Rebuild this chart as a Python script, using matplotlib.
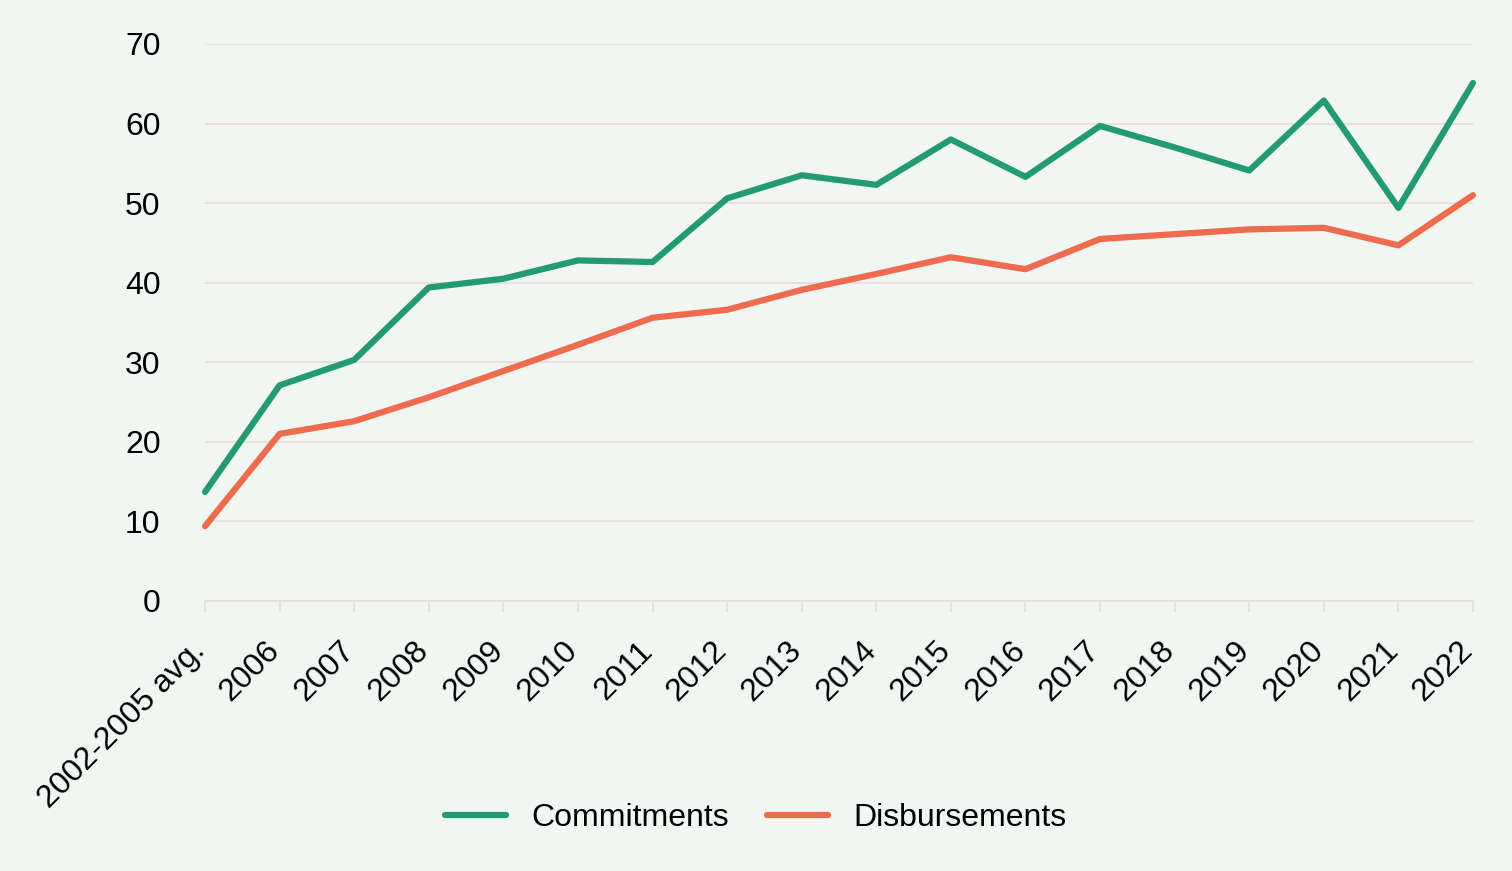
import matplotlib.pyplot as plt
import matplotlib.transforms as mtransforms

# Data
years = ['2002-2005 avg.', '2006', '2007', '2008', '2009', '2010', '2011', '2012', '2013',
         '2014', '2015', '2016', '2017', '2018', '2019', '2020', '2021', '2022']
commitments = [13.7, 27.1, 30.3, 39.4, 40.5, 42.8, 42.6, 50.6, 53.5,
               52.3, 58.0, 53.3, 59.7, 57.0, 54.1, 62.9, 49.4, 65.1]
disbursements = [9.4, 21.0, 22.6, 25.6, 28.9, 32.2, 35.6, 36.6, 39.1,
                 41.1, 43.2, 41.7, 45.5, 46.1, 46.7, 46.9, 44.7, 51.0]

bg = '#f2f6f3'
grid_col = '#e4ddd6'

plt.rcParams['font.family'] = ['Liberation Sans', 'DejaVu Sans']

fig = plt.figure(figsize=(15.12, 8.71), dpi=100, facecolor=bg)
ax = fig.add_axes([0.1356, 0.31, 0.8386, 0.6395])
ax.set_facecolor(bg)

x = range(len(years))
ax.plot(x, commitments, color='#229b73', lw=4.5, solid_capstyle='round',
        solid_joinstyle='round', label='Commitments', clip_on=False)
ax.plot(x, disbursements, color='#ee6b4d', lw=4.5, solid_capstyle='round',
        solid_joinstyle='round', label='Disbursements', clip_on=False)

ax.set_xlim(0, len(years) - 1)
ax.set_ylim(0, 70)
ax.set_yticks(range(0, 71, 10))
ax.set_xticks(list(x))
ax.set_xticklabels(years, rotation=45, ha='right', rotation_mode='anchor')

ax.grid(axis='y', color=grid_col, lw=1.2)
ax.set_axisbelow(True)
for s in ['top', 'right', 'left']:
    ax.spines[s].set_visible(False)
ax.spines['bottom'].set_color(grid_col)
ax.spines['bottom'].set_linewidth(1.2)

ax.tick_params(axis='y', length=0, labelsize=23, pad=32)
ax.tick_params(axis='x', length=8, color=grid_col, width=1.2, labelsize=23, pad=17)

# nudge rotated labels left so their ends sit under the ticks
shift = mtransforms.ScaledTranslation(-11 / 72, 0, fig.dpi_scale_trans)
for lbl in ax.get_xticklabels():
    lbl.set_transform(lbl.get_transform() + shift)

fig.legend(loc='center', bbox_to_anchor=(0.5, 0.061), ncol=2, frameon=False,
           fontsize=23, handlelength=1.9, handletextpad=0.8, columnspacing=1.2)

fig.savefig('out.png', dpi=100, facecolor=bg)
